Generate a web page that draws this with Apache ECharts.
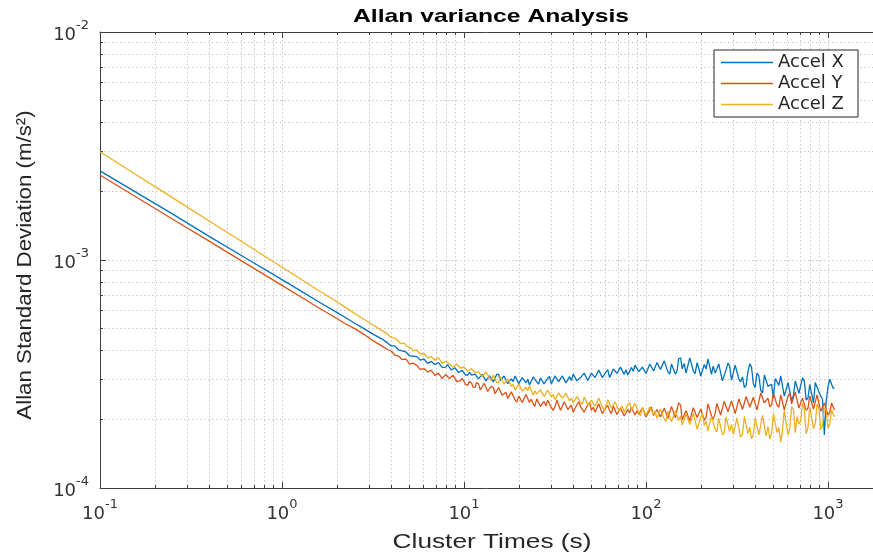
<!DOCTYPE html>
<html><head><meta charset="utf-8">
<script src="https://cdn.jsdelivr.net/npm/echarts@6/dist/echarts.min.js"></script>
<style>html,body{margin:0;padding:0;background:#fff}#c{width:873px;height:556px}</style>
</head><body><div id="c"></div>
<script>
const chartTitle = 'Allan variance Analysis';
const xName = 'Cluster Times (s)';
const yName = 'Allan Standard Deviation (m/s²)';
const seriesNames = ['Accel X', 'Accel Y', 'Accel Z'];
const seriesColors = ['#0072BD', '#D95319', '#EDB120'];

// cluster times (s)
const tau = [0.1,0.158,0.251,0.398,0.631,1.0,1.26,1.58,2.0,2.24,2.51,2.82,3.16,3.55,
3.80,3.89,3.98,4.07,4.17,4.27,4.37,4.47,4.57,4.68,4.79,4.90,5.01,5.13,5.25,5.37,5.50,5.62,5.75,5.89,6.03,6.17,6.31,6.46,6.61,6.76,6.92,7.08,7.24,7.41,7.59,7.76,7.94,8.13,8.32,8.51,8.71,8.91,9.12,9.33,9.55,9.77,
10.0,10.2,10.5,10.7,11.0,11.2,11.5,11.7,12.0,12.3,12.6,12.9,13.2,13.5,13.8,14.1,14.5,14.8,15.1,15.5,15.8,16.2,16.6,17.0,17.4,17.8,18.2,18.6,19.1,19.5,20.0,20.4,20.9,21.4,21.9,22.4,22.9,23.4,24.0,24.5,25.1,25.7,26.3,26.9,27.5,28.2,28.8,29.5,30.2,30.9,31.6,32.4,33.1,33.9,34.7,35.5,36.3,37.2,38.0,38.9,39.8,40.7,41.7,42.7,43.7,44.7,45.7,46.8,47.9,49.0,50.1,51.3,52.5,53.7,55.0,56.2,57.5,58.9,60.3,61.7,63.1,64.6,66.1,67.6,69.2,70.8,72.4,74.1,75.9,77.6,79.4,81.3,83.2,85.1,87.1,89.1,91.2,93.3,95.5,97.7,
100,102,105,107,110,112,115,117,120,123,126,129,132,135,138,141,145,148,151,155,158,162,166,170,174,178,182,186,191,195,200,204,209,214,219,224,229,234,240,245,251,257,263,269,275,282,288,295,302,309,316,324,331,339,347,355,363,372,380,389,398,407,417,427,437,447,457,468,479,490,501,513,525,537,550,562,575,589,603,617,631,646,661,676,692,708,724,741,759,776,794,813,832,851,871,891,912,933,955,977,
1000,1023,1047,1066,1085];

const accelX = [2.46e-3,1.98e-3,1.59e-3,1.27e-3,1.02e-3,8.20e-4,7.34e-4,6.58e-4,5.89e-4,5.58e-4,5.28e-4,5.00e-4,4.73e-4,4.50e-4,
4.33e-4,4.31e-4,4.20e-4,4.16e-4,4.20e-4,4.12e-4,4.03e-4,4.05e-4,3.99e-4,3.93e-4,3.95e-4,3.92e-4,3.81e-4,3.76e-4,3.79e-4,3.82e-4,3.77e-4,3.71e-4,3.64e-4,3.62e-4,3.68e-4,3.67e-4,
3.52e-4,3.48e-4,3.59e-4,3.57e-4,3.48e-4,3.44e-4,3.55e-4,3.53e-4,3.38e-4,3.35e-4,3.39e-4,3.48e-4,3.43e-4,3.29e-4,3.29e-4,3.37e-4,3.31e-4,3.21e-4,3.18e-4,3.28e-4,
3.26e-4,3.13e-4,3.13e-4,3.22e-4,3.13e-4,3.08e-4,3.16e-4,3.18e-4,3.01e-4,2.96e-4,3.15e-4,3.17e-4,2.95e-4,2.93e-4,3.10e-4,3.13e-4,2.92e-4,2.91e-4,3.15e-4,3.15e-4,
2.96e-4,2.91e-4,3.10e-4,3.10e-4,2.87e-4,2.85e-4,3.01e-4,2.93e-4,3.10e-4,3.10e-4,2.87e-4,2.84e-4,3.05e-4,3.09e-4,2.89e-4,3.00e-4,2.83e-4,2.83e-4,3.07e-4,3.08e-4,
2.92e-4,2.86e-4,3.04e-4,3.07e-4,2.86e-4,2.85e-4,3.02e-4,3.09e-4,2.86e-4,2.86e-4,3.10e-4,3.14e-4,2.93e-4,2.89e-4,3.10e-4,3.11e-4,2.89e-4,2.90e-4,3.08e-4,2.96e-4,
3.16e-4,3.18e-4,2.95e-4,2.91e-4,3.05e-4,3.00e-4,3.19e-4,3.20e-4,2.96e-4,2.95e-4,3.19e-4,3.24e-4,3.05e-4,3.04e-4,3.29e-4,3.27e-4,3.05e-4,3.01e-4,3.23e-4,3.30e-4,
3.05e-4,3.06e-4,3.33e-4,3.39e-4,3.18e-4,3.15e-4,3.39e-4,3.40e-4,3.15e-4,3.30e-4,3.13e-4,3.12e-4,3.38e-4,3.25e-4,3.46e-4,3.48e-4,3.24e-4,3.18e-4,3.39e-4,3.45e-4,
3.18e-4,3.17e-4,3.50e-4,3.52e-4,3.26e-4,3.23e-4,3.55e-4,3.57e-4,3.31e-4,3.25e-4,3.61e-4,3.63e-4,3.23e-4,3.16e-4,3.50e-4,3.56e-4,3.16e-4,3.25e-4,3.68e-4,3.72e-4,
3.33e-4,3.52e-4,3.19e-4,3.21e-4,3.72e-4,3.70e-4,3.26e-4,3.17e-4,3.55e-4,3.52e-4,3.10e-4,3.09e-4,3.48e-4,3.33e-4,3.68e-4,3.62e-4,3.15e-4,3.42e-4,3.19e-4,3.14e-4,
3.50e-4,3.45e-4,2.95e-4,2.93e-4,3.29e-4,3.53e-4,3.43e-4,2.97e-4,2.95e-4,3.46e-4,3.46e-4,3.00e-4,2.92e-4,3.07e-4,2.76e-4,2.82e-4,3.23e-4,3.51e-4,3.39e-4,2.86e-4,
2.76e-4,3.19e-4,3.10e-4,2.68e-4,2.61e-4,3.13e-4,3.19e-4,2.79e-4,2.80e-4,2.85e-4,2.48e-4,3.02e-4,3.04e-4,2.82e-4,3.10e-4,3.07e-4,2.53e-4,2.55e-4,2.90e-4,2.89e-4,
2.41e-4,2.55e-4,2.95e-4,3.00e-4,2.60e-4,2.62e-4,3.04e-4,2.95e-4,2.43e-4,2.48e-4,2.84e-4,2.83e-4,2.36e-4,2.90e-4,2.92e-4,2.64e-4,2.53e-4,2.45e-4,1.71e-4,2.40e-4,
2.77e-4,3.00e-4,2.95e-4,2.74e-4,2.75e-4];

const accelY = [2.36e-3,1.89e-3,1.51e-3,1.21e-3,9.67e-4,7.74e-4,6.92e-4,6.19e-4,5.54e-4,5.24e-4,5.00e-4,4.72e-4,4.43e-4,4.19e-4,
4.05e-4,3.98e-4,3.99e-4,3.95e-4,3.83e-4,3.77e-4,3.79e-4,3.76e-4,3.66e-4,3.63e-4,3.68e-4,3.63e-4,3.50e-4,3.48e-4,3.53e-4,3.52e-4,3.45e-4,3.38e-4,3.31e-4,3.29e-4,3.34e-4,3.35e-4,
3.23e-4,3.19e-4,3.28e-4,3.26e-4,3.12e-4,3.09e-4,3.19e-4,3.17e-4,3.02e-4,3.02e-4,3.15e-4,3.15e-4,3.02e-4,2.98e-4,3.12e-4,3.09e-4,2.93e-4,2.89e-4,2.96e-4,3.03e-4,
2.99e-4,2.85e-4,2.82e-4,2.94e-4,2.89e-4,2.77e-4,2.76e-4,2.90e-4,2.87e-4,2.69e-4,2.68e-4,2.88e-4,2.86e-4,2.65e-4,2.66e-4,2.79e-4,2.76e-4,2.59e-4,2.57e-4,2.76e-4,
2.73e-4,2.55e-4,2.58e-4,2.63e-4,2.47e-4,2.45e-4,2.64e-4,2.64e-4,2.43e-4,2.38e-4,2.53e-4,2.57e-4,2.37e-4,2.37e-4,2.57e-4,2.54e-4,2.37e-4,2.45e-4,2.34e-4,2.28e-4,
2.46e-4,2.46e-4,2.28e-4,2.25e-4,2.40e-4,2.29e-4,2.43e-4,2.43e-4,2.25e-4,2.19e-4,2.27e-4,2.43e-4,2.40e-4,2.19e-4,2.20e-4,2.39e-4,2.35e-4,2.21e-4,2.25e-4,2.31e-4,
2.15e-4,2.15e-4,2.32e-4,2.39e-4,2.27e-4,2.30e-4,2.15e-4,2.15e-4,2.32e-4,2.37e-4,2.19e-4,2.26e-4,2.15e-4,2.13e-4,2.34e-4,2.34e-4,2.12e-4,2.10e-4,2.25e-4,2.30e-4,
2.18e-4,2.12e-4,2.29e-4,2.30e-4,2.10e-4,2.08e-4,2.24e-4,2.28e-4,2.07e-4,2.05e-4,2.21e-4,2.14e-4,2.25e-4,2.28e-4,2.09e-4,2.18e-4,2.10e-4,2.07e-4,2.25e-4,2.26e-4,
2.05e-4,2.04e-4,2.20e-4,2.27e-4,2.08e-4,2.04e-4,2.21e-4,2.24e-4,2.05e-4,2.04e-4,2.24e-4,2.26e-4,2.02e-4,2.02e-4,2.28e-4,2.31e-4,2.03e-4,2.06e-4,2.36e-4,2.31e-4,
1.99e-4,1.98e-4,2.18e-4,2.22e-4,1.97e-4,1.98e-4,2.25e-4,2.27e-4,2.04e-4,2.00e-4,2.22e-4,2.25e-4,1.98e-4,2.05e-4,2.34e-4,2.34e-4,2.07e-4,2.00e-4,2.13e-4,2.35e-4,
2.34e-4,2.09e-4,2.11e-4,2.40e-4,2.42e-4,2.16e-4,2.18e-4,2.41e-4,2.37e-4,2.12e-4,2.13e-4,2.46e-4,2.46e-4,2.21e-4,2.24e-4,2.52e-4,2.56e-4,2.26e-4,2.24e-4,2.50e-4,
2.48e-4,2.20e-4,2.21e-4,2.61e-4,2.66e-4,2.36e-4,2.36e-4,2.48e-4,2.27e-4,2.32e-4,2.61e-4,2.61e-4,2.31e-4,2.26e-4,2.56e-4,2.52e-4,2.20e-4,2.22e-4,2.53e-4,2.61e-4,
2.34e-4,2.34e-4,2.64e-4,2.59e-4,2.24e-4,2.22e-4,2.48e-4,2.50e-4,2.19e-4,2.24e-4,2.53e-4,2.52e-4,2.22e-4,2.25e-4,2.56e-4,2.53e-4,2.17e-4,2.15e-4,2.36e-4,2.38e-4,
2.09e-4,2.14e-4,2.36e-4,2.35e-4,2.20e-4];

const accelZ = [2.985e-3,2.365e-3,1.873e-3,1.483e-3,1.175e-3,9.30e-4,8.28e-4,7.37e-4,6.56e-4,6.18e-4,5.83e-4,5.50e-4,5.19e-4,4.90e-4,
4.74e-4,4.70e-4,4.57e-4,4.51e-4,4.55e-4,4.52e-4,4.41e-4,4.30e-4,4.28e-4,4.32e-4,4.28e-4,4.17e-4,4.15e-4,4.11e-4,3.99e-4,3.97e-4,4.03e-4,3.99e-4,3.87e-4,3.84e-4,3.89e-4,3.88e-4,
3.72e-4,3.67e-4,3.77e-4,3.78e-4,3.64e-4,3.61e-4,3.72e-4,3.66e-4,3.52e-4,3.48e-4,3.59e-4,3.62e-4,3.50e-4,3.51e-4,3.39e-4,3.38e-4,3.50e-4,3.50e-4,3.36e-4,3.31e-4,
3.39e-4,3.39e-4,3.26e-4,3.23e-4,3.34e-4,3.34e-4,3.21e-4,3.16e-4,3.24e-4,3.25e-4,3.07e-4,3.06e-4,3.23e-4,3.23e-4,3.04e-4,2.96e-4,3.12e-4,3.13e-4,2.90e-4,2.90e-4,
3.08e-4,3.09e-4,2.86e-4,2.82e-4,3.01e-4,3.02e-4,2.79e-4,2.85e-4,2.69e-4,2.66e-4,2.86e-4,2.87e-4,2.66e-4,2.63e-4,2.77e-4,2.67e-4,2.80e-4,2.76e-4,2.56e-4,2.67e-4,
2.58e-4,2.53e-4,2.70e-4,2.71e-4,2.52e-4,2.50e-4,2.69e-4,2.70e-4,2.51e-4,2.57e-4,2.44e-4,2.42e-4,2.61e-4,2.65e-4,2.48e-4,2.44e-4,2.60e-4,2.61e-4,2.41e-4,2.48e-4,
2.36e-4,2.34e-4,2.52e-4,2.55e-4,2.38e-4,2.32e-4,2.51e-4,2.51e-4,2.32e-4,2.28e-4,2.43e-4,2.47e-4,2.28e-4,2.26e-4,2.48e-4,2.48e-4,2.28e-4,2.19e-4,2.29e-4,2.44e-4,
2.40e-4,2.24e-4,2.22e-4,2.39e-4,2.38e-4,2.18e-4,2.21e-4,2.29e-4,2.15e-4,2.12e-4,2.32e-4,2.37e-4,2.20e-4,2.16e-4,2.35e-4,2.35e-4,2.13e-4,2.08e-4,2.25e-4,2.28e-4,
2.09e-4,2.07e-4,2.27e-4,2.29e-4,2.10e-4,2.18e-4,2.02e-4,2.01e-4,2.22e-4,2.24e-4,2.01e-4,1.96e-4,2.17e-4,2.20e-4,1.95e-4,1.94e-4,2.18e-4,2.20e-4,1.98e-4,2.07e-4,
1.89e-4,1.88e-4,2.11e-4,2.15e-4,1.90e-4,1.87e-4,2.13e-4,2.11e-4,1.81e-4,1.81e-4,2.05e-4,2.12e-4,1.88e-4,1.96e-4,1.78e-4,1.79e-4,2.06e-4,2.09e-4,1.81e-4,1.76e-4,
2.02e-4,2.01e-4,1.71e-4,1.75e-4,2.05e-4,2.06e-4,1.77e-4,1.90e-4,1.72e-4,1.74e-4,2.03e-4,2.02e-4,1.67e-4,1.72e-4,2.06e-4,2.07e-4,1.73e-4,1.85e-4,1.64e-4,1.72e-4,
2.03e-4,2.06e-4,1.71e-4,1.74e-4,2.08e-4,2.07e-4,1.69e-4,1.86e-4,1.64e-4,1.74e-4,2.11e-4,2.12e-4,1.75e-4,1.84e-4,1.59e-4,1.78e-4,2.19e-4,2.15e-4,1.71e-4,1.83e-4,
2.27e-4,2.21e-4,1.75e-4,2.05e-4,1.91e-4,1.96e-4,2.36e-4,2.21e-4,1.73e-4,1.84e-4,2.27e-4,2.23e-4,1.82e-4,1.91e-4,2.34e-4,2.24e-4,1.80e-4,1.88e-4,2.25e-4,2.20e-4,
1.83e-4,1.91e-4,2.19e-4,2.18e-4,2.05e-4];

const xRange = [0.1, 10000];
const yRange = [1e-4, 1e-2];

const seriesValues = [accelX, accelY, accelZ];

function powLabel(v) {
  const e = Math.round(Math.log10(v));
  if (Math.abs(v / Math.pow(10, e) - 1) > 1e-6) return '';
  return '{b|10}{s|' + e + '}';
}
const labelRich = {
  b: {fontFamily: 'DejaVu Sans', fontSize: 18, color: '#333', verticalAlign: 'bottom', padding: [7, 0, 0, 0]},
  s: {fontFamily: 'DejaVu Sans', fontSize: 13, color: '#333', verticalAlign: 'top'}
};
const gridStyle = {color: '#c8c8c8', type: [1.5, 2.5], width: 1};
const axisColor = '#404040';

function makeAxis(extra, range) {
  return Object.assign({
    type: 'log', logBase: 10, min: range[0], max: range[1],
    axisLine: {show: true, onZero: false, lineStyle: {color: axisColor, width: 1}},
    axisTick: {show: true, inside: true, length: 6, lineStyle: {color: axisColor}},
    minorTick: {show: true, splitNumber: 9, length: 3, lineStyle: {color: axisColor}},
    splitLine: {show: false},
    minorSplitLine: {show: false},
    axisLabel: {show: false}
  }, extra);
}

const chart = echarts.init(document.getElementById('c'), null, {renderer: 'canvas'});
chart.setOption({
  animation: false,
  backgroundColor: '#fff',
  grid: {left: 100, top: 32, width: 910, height: 456, containLabel: false, outerBoundsMode: 'none'},
  xAxis: [
    makeAxis({position: 'bottom',
      axisLabel: {show: true, formatter: powLabel, rich: labelRich, margin: 10},
      splitLine: {show: true, lineStyle: gridStyle},
      minorSplitLine: {show: true, lineStyle: gridStyle}}, xRange),
    makeAxis({position: 'top'}, xRange)
  ],
  yAxis: [
    makeAxis({position: 'left',
      axisLabel: {show: true, formatter: powLabel, rich: labelRich, margin: 11},
      splitLine: {show: true, lineStyle: gridStyle},
      minorSplitLine: {show: true, lineStyle: gridStyle}}, yRange)
  ],
  legend: {
    data: seriesNames.map(n => ({name: n, icon: 'rect'})),
    orient: 'vertical', right: 15, top: 50,
    itemWidth: 52, itemHeight: 1.4, itemGap: 0, padding: [2, 3, 2, 7],
    backgroundColor: '#fff', borderColor: '#262626', borderWidth: 1, borderRadius: 0,
    textStyle: {fontFamily: 'DejaVu Sans', fontSize: 18, lineHeight: 21, color: '#262626', width: 77}
  },
  graphic: [
    {type: 'text', x: 491, y: 17, scaleX: 1.3, z: 100,
     style: {text: chartTitle, font: 'bold 19px "Liberation Sans"', fill: '#000',
             align: 'center', verticalAlign: 'middle', textAlign: 'center', textVerticalAlign: 'middle'}},
    {type: 'text', x: 492, y: 542, scaleX: 1.25, z: 100,
     style: {text: xName, font: '21px "Liberation Sans"', fill: '#262626',
             align: 'center', verticalAlign: 'middle', textAlign: 'center', textVerticalAlign: 'middle'}},
    {type: 'text', x: 25, y: 265, rotation: Math.PI / 2, scaleX: 1.06, z: 100,
     style: {text: yName, font: '21px "Liberation Sans"', fill: '#262626',
             align: 'center', verticalAlign: 'middle', textAlign: 'center', textVerticalAlign: 'middle'}}
  ],
  series: seriesNames.map((name, i) => ({
    name: name, type: 'line', xAxisIndex: 0, yAxisIndex: 0,
    data: tau.map((t, j) => [t, seriesValues[i][j]]),
    showSymbol: false, symbol: 'none',
    lineStyle: {color: seriesColors[i], width: 1.3},
    itemStyle: {color: seriesColors[i]},
    z: 2 + i
  }))
});
</script>
</body></html>
